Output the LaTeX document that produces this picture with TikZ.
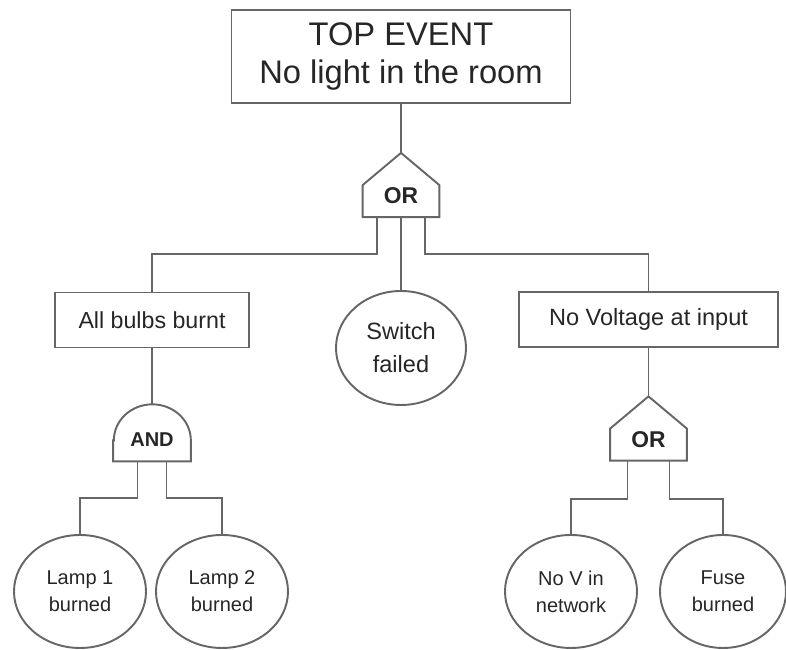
\documentclass[tikz,border=0pt]{standalone}
\usepackage{fontspec}
\setmainfont{Liberation Sans}
\usetikzlibrary{shapes.geometric}

\begin{document}
\begin{tikzpicture}[
    wire/.style={draw=black!60, line width=1.1pt},
    event/.style={wire, rectangle, align=center, inner sep=0pt, text=black!85},
    basic/.style={wire, ellipse, align=center, inner sep=0pt, text=black!85,
        minimum width=2.64cm, minimum height=2.26cm, font=\fontsize{11.4}{15.4}\selectfont},
    orgate/.style={inner sep=0pt, minimum width=1.52cm, text height=1.01cm, text depth=0.26cm,
        text=black!85, font=\bfseries\fontsize{13}{15}\selectfont,
        append after command={\pgfextra{\draw[wire] (\tikzlastnode.south west)
            -- ([yshift=0.64cm]\tikzlastnode.south west) -- (\tikzlastnode.north)
            -- ([yshift=0.64cm]\tikzlastnode.south east) -- (\tikzlastnode.south east) -- cycle;}}},
    andgate/.style={inner sep=0pt, minimum width=1.54cm, text height=0.86cm, text depth=0.28cm,
        text=black!85, font=\bfseries\fontsize{11.4}{13}\selectfont,
        append after command={\pgfextra{\draw[wire] ([yshift=0.42cm]\tikzlastnode.south west)
            -- (\tikzlastnode.south west) -- (\tikzlastnode.south east)
            -- ([yshift=0.42cm]\tikzlastnode.south east)
            arc[start angle=0, end angle=180, x radius=0.77cm, y radius=0.72cm] -- cycle;}}}
]
    \useasboundingbox (0,0) rectangle (15.72,13);

    % Top event
    \node[event, minimum width=6.78cm, minimum height=1.86cm, font=\fontsize{18.6}{21.8}\selectfont]
        (top) at (8.02,11.87) {TOP EVENT\\No light in the room};
    \node[orgate] (or1) at (8.02,9.30) {OR};
    \draw[wire] (top.south) -- (or1.north);

    % Second level
    \node[event, minimum width=3.88cm, minimum height=1.1cm, font=\fontsize{13.2}{16}\selectfont]
        (bulbs) at (3.04,6.6) {All bulbs burnt};
    \node[basic, minimum width=2.6cm, minimum height=2.28cm, font=\fontsize{13.4}{18.8}\selectfont]
        (switch) at (8.02,6.04) {Switch\\failed};
    \node[event, minimum width=5.18cm, minimum height=1.1cm, font=\fontsize{13.4}{16}\selectfont]
        (volt) at (12.97,6.61) {No Voltage at input};

    \draw[wire] ([xshift=-0.48cm]or1.south) -- ++(0,-0.74) -| (bulbs.north);
    \draw[wire] (or1.south) -- (switch.north);
    \draw[wire] ([xshift=0.48cm]or1.south) -- ++(0,-0.74) -| (volt.north);

    % Gates
    \node[andgate] (and) at (3.04,4.35) {AND};
    \node[orgate] (or2) at (12.97,4.43) {OR};
    \draw[wire] (bulbs.south) -- (and.north);
    \draw[wire] (volt.south) -- (or2.north);

    % Basic events
    \node[basic] (lamp1) at (1.6,1.17) {Lamp 1\\burned};
    \node[basic] (lamp2) at (4.44,1.17) {Lamp 2\\burned};
    \node[basic] (nov) at (11.42,1.17) {No V in\\network};
    \node[basic, minimum width=2.52cm] (fuse) at (14.46,1.17) {Fuse\\burned};

    \draw[wire] ([xshift=-0.29cm]and.south) -- ++(0,-0.74) -| (lamp1.north);
    \draw[wire] ([xshift=0.29cm]and.south) -- ++(0,-0.74) -| (lamp2.north);
    \draw[wire] ([xshift=-0.42cm]or2.south) -- ++(0,-0.76) -| (nov.north);
    \draw[wire] ([xshift=0.42cm]or2.south) -- ++(0,-0.76) -| (fuse.north);
\end{tikzpicture}
\end{document}
